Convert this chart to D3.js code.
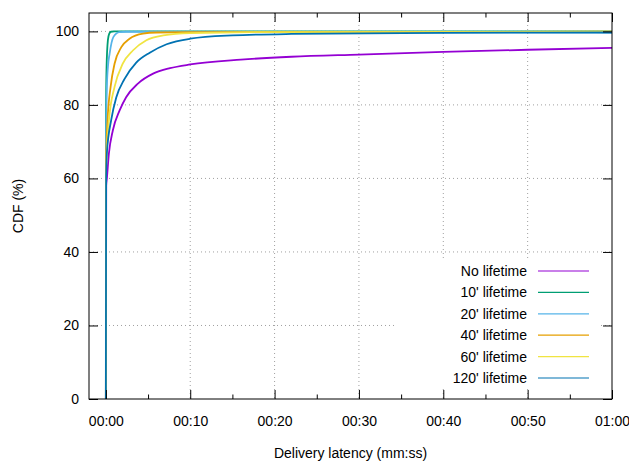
<!DOCTYPE html>
<html>
<head>
<meta charset="utf-8">
<script src="https://cdn.jsdelivr.net/npm/d3@7"></script>
<style>
  body { margin: 0; background: #fff; }
  svg { display: block; font-family: "Liberation Sans", Arial, sans-serif; }
</style>
</head>
<body>
<div id="chart"></div>
<script>
// CDF curves, [seconds, percent]
const noLifetime = [[0, 0], [0.04, 58], [0.12, 60], [0.36, 66.8], [0.83, 73.1], [1.63, 78.5], [2.4, 82.1], [3.8, 85.8], [5.6, 88.5], [7.6, 90], [10, 91], [16, 92.3], [22, 93.1], [30, 93.7], [40, 94.4], [50, 95], [60, 95.5]];
const lifetime10 = [[0, 0], [0.01, 75], [0.08, 90], [0.24, 97.6], [0.4, 99.4], [0.6, 99.9], [1, 100], [60, 100]];
const lifetime20 = [[0, 0], [0.02, 70], [0.12, 85], [0.25, 90.5], [0.44, 93.9], [0.9, 98.5], [1.6, 99.8], [2.5, 99.9], [60, 99.7]];
const lifetime40 = [[0, 0], [0.02, 64], [0.2, 75.8], [0.56, 84.9], [1.03, 91.2], [1.83, 95.7], [2.8, 98], [4.4, 99.4], [6, 99.7], [10, 99.8], [60, 99.9]];
const lifetime60 = [[0, 0], [0.02, 62], [0.36, 75.8], [1.03, 84.9], [2, 91.2], [3.2, 94.8], [4.8, 97.6], [6.8, 98.9], [10, 99.5], [20, 99.8], [60, 99.9]];
const lifetime120 = [[0, 0], [0.03, 60], [0.12, 67], [0.64, 76], [1.23, 82], [2.2, 87], [3.6, 91.5], [5.2, 94.2], [7.2, 96.5], [10, 98], [15, 98.9], [22, 99.3], [40, 99.6], [60, 99.7]];

const seriesNames = ["No lifetime", "10' lifetime", "20' lifetime", "40' lifetime", "60' lifetime", "120' lifetime"];
const seriesData = [noLifetime, lifetime10, lifetime20, lifetime40, lifetime60, lifetime120];
const seriesColors = ["#9400d3", "#009e73", "#56b4e9", "#e69f00", "#f0e442", "#0072b2"];

const xTicks = [0, 10, 20, 30, 40, 50, 60];
const xMinorTicks = [5, 15, 25, 35, 45, 55];
const yTicks = [0, 20, 40, 60, 80, 100];

const width = 629, height = 461;
const margin = { top: 13, right: 17, bottom: 62, left: 89 };
const plotW = width - margin.left - margin.right;
const plotH = height - margin.top - margin.bottom;
const fontSize = 14;

const svg = d3.select('#chart').append('svg')
  .attr('width', width)
  .attr('height', height);

const x = d3.scaleLinear().domain([-2, 60]).range([0, plotW]);
const y = d3.scaleLinear().domain([0, 105]).range([plotH, 0]);

const g = svg.append('g').attr('transform', `translate(${margin.left},${margin.top})`);

const fmt = (s) => {
  const m = Math.floor(s / 60), sec = s % 60;
  return `${String(m).padStart(2, '0')}:${String(sec).padStart(2, '0')}`;
};

// grid
const gridStyle = (sel) => sel.attr('stroke', '#a0a0a0').attr('stroke-width', 1).attr('stroke-dasharray', '1,3');
g.append('g').selectAll('line').data(xTicks.filter((d) => d > 0 && d < 60)).join('line')
  .attr('x1', (d) => x(d)).attr('x2', (d) => x(d)).attr('y1', 0).attr('y2', plotH)
  .call(gridStyle);
g.append('g').selectAll('line').data(yTicks.filter((d) => d > 0)).join('line')
  .attr('x1', 0).attr('x2', plotW).attr('y1', (d) => y(d)).attr('y2', (d) => y(d))
  .call(gridStyle);

// legend background hides grid
g.append('rect').attr('x', 308).attr('y', 245).attr('width', 203).attr('height', 131).attr('fill', '#fff');

// curves
g.append('clipPath').attr('id', 'clip').append('rect').attr('width', plotW).attr('height', plotH);
const line = d3.line().x((d) => x(d[0])).y((d) => y(d[1])).curve(d3.curveMonotoneX);
g.append('g').attr('clip-path', 'url(#clip)')
  .selectAll('path').data(seriesData).join('path')
  .attr('d', line)
  .attr('fill', 'none')
  .attr('stroke', (d, i) => seriesColors[i])
  .attr('stroke-width', 1.8);

// axes (gnuplot style: inward ticks, mirrored)
const axisStyle = (sel) => {
  sel.select('.domain').remove();
  sel.selectAll('text').attr('font-size', fontSize).attr('fill', '#000').attr('font-family', '"Liberation Sans", Arial, sans-serif');
  sel.selectAll('line').attr('stroke', '#000');
};
g.append('g').attr('transform', `translate(0,${plotH})`)
  .call(d3.axisBottom(x).tickValues(xTicks).tickFormat(fmt).tickSizeInner(-9).tickPadding(17))
  .call(axisStyle);
g.append('g').attr('transform', `translate(0,${plotH})`)
  .call(d3.axisBottom(x).tickValues(xMinorTicks).tickFormat('').tickSizeInner(-4.5))
  .call(axisStyle);
g.append('g')
  .call(d3.axisTop(x).tickValues(xTicks).tickFormat('').tickSizeInner(-9))
  .call(axisStyle);
g.append('g')
  .call(d3.axisTop(x).tickValues(xMinorTicks).tickFormat('').tickSizeInner(-4.5))
  .call(axisStyle);
g.append('g')
  .call(d3.axisLeft(y).tickValues(yTicks).tickSizeInner(-9).tickPadding(10))
  .call(axisStyle);
g.append('g').attr('transform', `translate(${plotW},0)`)
  .call(d3.axisRight(y).tickValues(yTicks).tickFormat('').tickSizeInner(-9))
  .call(axisStyle);

// frame
g.append('rect').attr('width', plotW).attr('height', plotH)
  .attr('fill', 'none').attr('stroke', '#000').attr('stroke-width', 1);

// legend
const legend = g.append('g').selectAll('g').data(seriesNames).join('g')
  .attr('transform', (d, i) => `translate(0,${258 + i * 21.4})`);
legend.append('text')
  .attr('x', 438).attr('dy', '0.35em')
  .attr('text-anchor', 'end').attr('font-size', fontSize)
  .text((d) => d);
legend.append('line')
  .attr('x1', 449).attr('x2', 500)
  .attr('stroke', (d, i) => seriesColors[i]).attr('stroke-width', 1.2);

// axis titles
svg.append('text')
  .attr('transform', `translate(23,${margin.top + plotH / 2}) rotate(-90)`)
  .attr('text-anchor', 'middle').attr('font-size', fontSize)
  .text('CDF (%)');
svg.append('text')
  .attr('x', margin.left + plotW / 2).attr('y', 458)
  .attr('text-anchor', 'middle').attr('font-size', fontSize)
  .text('Delivery latency (mm:ss)');
</script>
</body>
</html>
